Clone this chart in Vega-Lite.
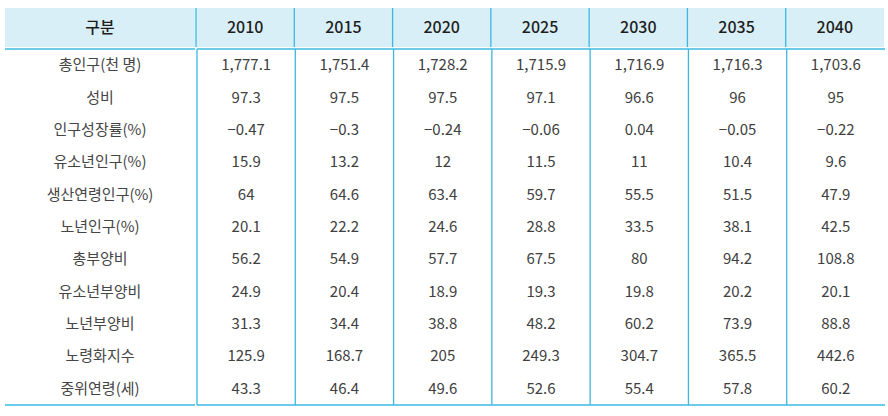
{
  "$schema": "https://vega.github.io/schema/vega-lite/v6.json",
  "padding": {"left": 4, "top": 7, "right": 0, "bottom": 0},
  "background": "white",
  "spacing": 0,
  "config": {
    "view": {"stroke": null},
    "concat": {"spacing": 0},
    "text": {"font": "Noto Sans CJK KR"}
  },
  "datasets": {
    "years": [
      {"year": "2010"}, {"year": "2015"}, {"year": "2020"}, {"year": "2025"},
      {"year": "2030"}, {"year": "2035"}, {"year": "2040"}
    ],
    "cells": [
      {"item": "총인구(천 명)", "year": "2010", "value": 1777.1},
      {"item": "총인구(천 명)", "year": "2015", "value": 1751.4},
      {"item": "총인구(천 명)", "year": "2020", "value": 1728.2},
      {"item": "총인구(천 명)", "year": "2025", "value": 1715.9},
      {"item": "총인구(천 명)", "year": "2030", "value": 1716.9},
      {"item": "총인구(천 명)", "year": "2035", "value": 1716.3},
      {"item": "총인구(천 명)", "year": "2040", "value": 1703.6},
      {"item": "성비", "year": "2010", "value": 97.3},
      {"item": "성비", "year": "2015", "value": 97.5},
      {"item": "성비", "year": "2020", "value": 97.5},
      {"item": "성비", "year": "2025", "value": 97.1},
      {"item": "성비", "year": "2030", "value": 96.6},
      {"item": "성비", "year": "2035", "value": 96},
      {"item": "성비", "year": "2040", "value": 95},
      {"item": "인구성장률(%)", "year": "2010", "value": -0.47},
      {"item": "인구성장률(%)", "year": "2015", "value": -0.3},
      {"item": "인구성장률(%)", "year": "2020", "value": -0.24},
      {"item": "인구성장률(%)", "year": "2025", "value": -0.06},
      {"item": "인구성장률(%)", "year": "2030", "value": 0.04},
      {"item": "인구성장률(%)", "year": "2035", "value": -0.05},
      {"item": "인구성장률(%)", "year": "2040", "value": -0.22},
      {"item": "유소년인구(%)", "year": "2010", "value": 15.9},
      {"item": "유소년인구(%)", "year": "2015", "value": 13.2},
      {"item": "유소년인구(%)", "year": "2020", "value": 12},
      {"item": "유소년인구(%)", "year": "2025", "value": 11.5},
      {"item": "유소년인구(%)", "year": "2030", "value": 11},
      {"item": "유소년인구(%)", "year": "2035", "value": 10.4},
      {"item": "유소년인구(%)", "year": "2040", "value": 9.6},
      {"item": "생산연령인구(%)", "year": "2010", "value": 64},
      {"item": "생산연령인구(%)", "year": "2015", "value": 64.6},
      {"item": "생산연령인구(%)", "year": "2020", "value": 63.4},
      {"item": "생산연령인구(%)", "year": "2025", "value": 59.7},
      {"item": "생산연령인구(%)", "year": "2030", "value": 55.5},
      {"item": "생산연령인구(%)", "year": "2035", "value": 51.5},
      {"item": "생산연령인구(%)", "year": "2040", "value": 47.9},
      {"item": "노년인구(%)", "year": "2010", "value": 20.1},
      {"item": "노년인구(%)", "year": "2015", "value": 22.2},
      {"item": "노년인구(%)", "year": "2020", "value": 24.6},
      {"item": "노년인구(%)", "year": "2025", "value": 28.8},
      {"item": "노년인구(%)", "year": "2030", "value": 33.5},
      {"item": "노년인구(%)", "year": "2035", "value": 38.1},
      {"item": "노년인구(%)", "year": "2040", "value": 42.5},
      {"item": "총부양비", "year": "2010", "value": 56.2},
      {"item": "총부양비", "year": "2015", "value": 54.9},
      {"item": "총부양비", "year": "2020", "value": 57.7},
      {"item": "총부양비", "year": "2025", "value": 67.5},
      {"item": "총부양비", "year": "2030", "value": 80},
      {"item": "총부양비", "year": "2035", "value": 94.2},
      {"item": "총부양비", "year": "2040", "value": 108.8},
      {"item": "유소년부양비", "year": "2010", "value": 24.9},
      {"item": "유소년부양비", "year": "2015", "value": 20.4},
      {"item": "유소년부양비", "year": "2020", "value": 18.9},
      {"item": "유소년부양비", "year": "2025", "value": 19.3},
      {"item": "유소년부양비", "year": "2030", "value": 19.8},
      {"item": "유소년부양비", "year": "2035", "value": 20.2},
      {"item": "유소년부양비", "year": "2040", "value": 20.1},
      {"item": "노년부양비", "year": "2010", "value": 31.3},
      {"item": "노년부양비", "year": "2015", "value": 34.4},
      {"item": "노년부양비", "year": "2020", "value": 38.8},
      {"item": "노년부양비", "year": "2025", "value": 48.2},
      {"item": "노년부양비", "year": "2030", "value": 60.2},
      {"item": "노년부양비", "year": "2035", "value": 73.9},
      {"item": "노년부양비", "year": "2040", "value": 88.8},
      {"item": "노령화지수", "year": "2010", "value": 125.9},
      {"item": "노령화지수", "year": "2015", "value": 168.7},
      {"item": "노령화지수", "year": "2020", "value": 205},
      {"item": "노령화지수", "year": "2025", "value": 249.3},
      {"item": "노령화지수", "year": "2030", "value": 304.7},
      {"item": "노령화지수", "year": "2035", "value": 365.5},
      {"item": "노령화지수", "year": "2040", "value": 442.6},
      {"item": "중위연령(세)", "year": "2010", "value": 43.3},
      {"item": "중위연령(세)", "year": "2015", "value": 46.4},
      {"item": "중위연령(세)", "year": "2020", "value": 49.6},
      {"item": "중위연령(세)", "year": "2025", "value": 52.6},
      {"item": "중위연령(세)", "year": "2030", "value": 55.4},
      {"item": "중위연령(세)", "year": "2035", "value": 57.8},
      {"item": "중위연령(세)", "year": "2040", "value": 60.2}
    ]
  },
  "vconcat": [
    {
      "spacing": 0,
      "hconcat": [
        {
          "width": 190,
          "height": 39,
          "view": {"fill": "#d9eff7", "stroke": null},
          "data": {"values": [{"head": "구분"}]},
          "mark": {"type": "text", "fontSize": 16, "fontWeight": 500, "color": "#1e1e1e"},
          "encoding": {"text": {"field": "head", "type": "nominal"}}
        },
        {
          "width": 688,
          "height": 39,
          "view": {"fill": "#d9eff7", "stroke": null},
          "data": {"name": "years"},
          "layer": [
            {
              "mark": {"type": "rule", "color": "#3cb8e0", "strokeWidth": 1.3},
              "encoding": {
                "x": {"field": "year", "type": "nominal", "bandPosition": 0, "axis": null,
                      "scale": {"paddingInner": 0, "paddingOuter": 0}}
              }
            },
            {
              "mark": {"type": "text", "fontSize": 16, "fontWeight": 500, "color": "#1e1e1e"},
              "encoding": {
                "x": {"field": "year", "type": "nominal", "axis": null},
                "text": {"field": "year", "type": "nominal"}
              }
            }
          ]
        }
      ]
    },
    {
      "spacing": 0,
      "hconcat": [
        {
          "width": 190,
          "height": 356,
          "layer": [
            {
              "data": {"name": "cells"},
              "transform": [{"filter": "datum.year === '2010'"}],
              "mark": {"type": "text", "fontSize": 15, "color": "#454545"},
              "encoding": {
                "y": {"field": "item", "type": "nominal", "axis": null, "sort": null,
                      "scale": {"paddingInner": 0, "paddingOuter": 0,
                                "domain": ["총인구(천 명)", "성비", "인구성장률(%)", "유소년인구(%)", "생산연령인구(%)", "노년인구(%)", "총부양비", "유소년부양비", "노년부양비", "노령화지수", "중위연령(세)"]}},
                "text": {"field": "item", "type": "nominal"}
              }
            },
            {
              "data": {"values": [{}]},
              "mark": {"type": "rule", "color": "#3cb8e0", "strokeWidth": 1.6},
              "encoding": {"y": {"datum": "총인구(천 명)", "type": "nominal", "bandPosition": 0}}
            },
            {
              "data": {"values": [{}]},
              "mark": {"type": "rule", "color": "#3cb8e0", "strokeWidth": 1.6},
              "encoding": {"y": {"datum": "중위연령(세)", "type": "nominal", "bandPosition": 1}}
            }
          ]
        },
        {
          "width": 688,
          "height": 356,
          "layer": [
            {
              "data": {"name": "years"},
              "mark": {"type": "rule", "color": "#3cb8e0", "strokeWidth": 1.3},
              "encoding": {
                "x": {"field": "year", "type": "nominal", "bandPosition": 0, "axis": null,
                      "scale": {"paddingInner": 0, "paddingOuter": 0}}
              }
            },
            {
              "data": {"name": "cells"},
              "mark": {"type": "text", "fontSize": 15, "color": "#404040"},
              "encoding": {
                "x": {"field": "year", "type": "nominal", "axis": null},
                "y": {"field": "item", "type": "nominal", "axis": null, "sort": null,
                      "scale": {"paddingInner": 0, "paddingOuter": 0,
                                "domain": ["총인구(천 명)", "성비", "인구성장률(%)", "유소년인구(%)", "생산연령인구(%)", "노년인구(%)", "총부양비", "유소년부양비", "노년부양비", "노령화지수", "중위연령(세)"]}},
                "text": {"field": "value", "type": "quantitative", "format": ",~g"}
              }
            },
            {
              "data": {"values": [{}]},
              "mark": {"type": "rule", "color": "#3cb8e0", "strokeWidth": 1.6},
              "encoding": {"y": {"datum": "총인구(천 명)", "type": "nominal", "bandPosition": 0}}
            },
            {
              "data": {"values": [{}]},
              "mark": {"type": "rule", "color": "#3cb8e0", "strokeWidth": 1.6},
              "encoding": {"y": {"datum": "중위연령(세)", "type": "nominal", "bandPosition": 1}}
            }
          ]
        }
      ]
    }
  ]
}
